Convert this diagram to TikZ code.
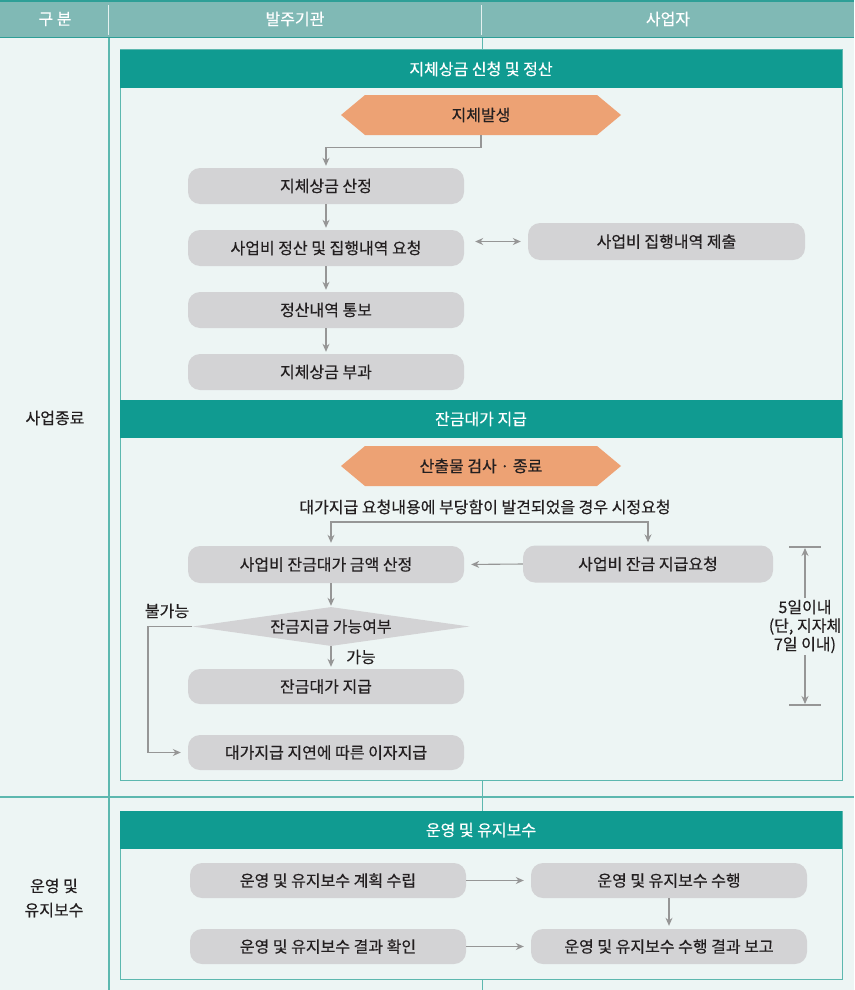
\documentclass[tikz,border=0pt]{standalone}
\usepackage{fontspec}
\setmainfont{Noto Sans CJK KR}[FakeBold=0.35]
\usetikzlibrary{arrows.meta,shapes.geometric}
\definecolor{hdr}{HTML}{80B9B5}
\definecolor{hdrline}{HTML}{2E9F97}
\definecolor{bodybg}{HTML}{EDF5F4}
\definecolor{gridc}{HTML}{5DB8AF}
\definecolor{barc}{HTML}{109B91}
\definecolor{orng}{HTML}{EDA274}
\definecolor{gboxc}{HTML}{D3D3D5}
\definecolor{arr}{HTML}{969696}
\definecolor{txt}{HTML}{231F20}
\begin{document}
\begin{tikzpicture}[x=1pt,y=-1pt,
  font=\fontsize{16}{19}\selectfont,
  every node/.style={text=txt},
  gbox/.style={fill=gboxc, rounded corners=12pt, minimum width=276pt, minimum height=36pt, inner sep=0pt},
  barbox/.style={fill=barc, minimum width=722pt, minimum height=38pt, inner sep=0pt, text=white},
  hdrtext/.style={text=white},
  arrowline/.style={draw=arr, line width=1.1pt, -{Stealth[length=8pt,width=7pt]}},
  tickline/.style={draw=arr, line width=1.1pt},
  lbl/.style={inner sep=0pt}
]
\useasboundingbox (0,0) rectangle (854,990);
% backgrounds
\fill[bodybg] (0,38) rectangle (854,990);
\fill[hdr] (0,0) rectangle (854,38);
\fill[hdrline] (0,0) rectangle (854,2.5);
\draw[hdrline, line width=1.5pt] (0,37.5) -- (854,37.5);
\draw[white!80!hdr, line width=1pt] (108.5,5) -- (108.5,35);
\draw[white!80!hdr, line width=1pt] (481.5,5) -- (481.5,35);
\draw[gridc, line width=1.2pt] (109,38) -- (109,990);
\draw[gridc, line width=1pt] (482,38) -- (482,990);
\draw[gridc, line width=1.2pt] (0,797) -- (854,797);
\draw[gridc, line width=1pt, fill=bodybg] (120,50) rectangle (842,780);
\draw[gridc, line width=1pt, fill=bodybg] (120,811) rectangle (842,979);
% header text
\node[hdrtext] (h1) at (55,19) {구 분};
\node[hdrtext] (h2) at (295,19) {발주기관};
\node[hdrtext] (h3) at (668,19) {사업자};
% left labels
\node (s1) at (55,418) {사업종료};
\node[align=center, font=\fontsize{16}{24}\selectfont] (s2) at (54,898) {운영 및\\유지보수};
% section bars
\node[barbox] (t1) at (481,69) {지체상금 신청 및 정산};
\node[barbox] (t2) at (481,419) {잔금대가 지급};
\node[barbox] (t3) at (481,830) {운영 및 유지보수};
% orange shapes
\fill[orng] (341,115) -- (365,95) -- (597,95) -- (621,115) -- (597,135) -- (365,135) -- cycle;
\node[minimum width=280pt, minimum height=40pt, inner sep=0pt] (jb) at (481,115) {지체발생};
\fill[orng] (341,466) -- (365,446) -- (597,446) -- (621,466) -- (597,486) -- (365,486) -- cycle;
\node[minimum width=280pt, minimum height=40pt, inner sep=0pt] (sj) at (481,466) {산출물 검사 · 종료};
% section 1 nodes
\node[gbox] (a1) at (326,186) {지체상금 산정};
\node[gbox] (a2) at (326,248) {사업비 정산 및 집행내역 요청};
\node[gbox] (a3) at (326,310) {정산내역 통보};
\node[gbox] (a4) at (326,372) {지체상금 부과};
\node[gbox, minimum width=277pt, minimum height=37pt] (b1) at (666.5,241.5) {사업비 집행내역 제출};
\draw[arrowline, shorten >=2pt] (jb.south) -- ++(0,12) -| (a1.north);
\draw[arrowline, shorten >=2pt] (a1) -- (a2);
\draw[arrowline, shorten >=2pt] (a2) -- (a3);
\draw[arrowline, shorten >=2pt] (a3) -- (a4);
\draw[arrowline, {Stealth[length=8pt,width=7pt]}-{Stealth[length=8pt,width=7pt]}, shorten <=11pt, shorten >=7pt] (a2.east |- b1.west) -- (b1.west);
% section 2 nodes
\node[lbl] (cond) at (485,507) {대가지급 요청내용에 부당함이 발견되었을 경우 시정요청};
\node[gbox, minimum height=37pt] (c1) at (326,564.5) {사업비 잔금대가 금액 산정};
\node[gbox, minimum width=250pt, minimum height=37pt] (c2) at (648,564) {사업비 잔금 지급요청};
\coordinate (split) at (490,522);
\draw[arrowline, shorten >=3pt] (split) -| ([xshift=5pt]c1.north);
\draw[arrowline, shorten >=3pt] (split) -| (c2.north);
\draw[arrowline, shorten >=7pt] (c2.west) -- (c1.east);
\node[diamond, aspect=7, fill=gboxc, minimum width=277pt, minimum height=39pt, inner sep=0pt] (dm) at (331,626.5) {잔금지급 가능여부};
\draw[arrowline, shorten >=1pt] ([xshift=5pt]c1.south) -- (dm.north);
\node[gbox, minimum height=35pt] (d1) at (326,686.5) {잔금대가 지급};
\node[gbox, minimum height=35pt] (d2) at (326,752.5) {대가지급 지연에 따른 이자지급};
\draw[arrowline, shorten >=2pt] (dm.south) -- ([xshift=5pt]d1.north);
\node[lbl] (ok) at (361,657) {가능};
\coordinate (bend) at (148,626.5);
\draw[arrowline, shorten >=7pt] (dm.west) -- (bend) |- (d2.west);
\node[lbl] (no) at (167,611) {불가능};
% dimension
\coordinate (dtop) at (805,547);
\coordinate (dbot) at (805,705);
\draw[tickline] ([xshift=-16pt]dtop) -- ([xshift=16pt]dtop);
\draw[tickline] ([xshift=-16pt]dbot) -- ([xshift=16pt]dbot);
\node[align=center, inner sep=2pt, font=\fontsize{16}{18.5}\selectfont] (dim) at (805,626.5) {5일이내\\(단, 지자체\\7일 이내)};
\draw[arrowline, shorten >=1pt] (dim.north) -- (dtop);
\draw[arrowline, shorten >=1pt] (dim.south) -- (dbot);
% section 3 nodes
\node[gbox, minimum height=35pt] (e1) at (328,880.5) {운영 및 유지보수 계획 수립};
\node[gbox, minimum height=35pt] (e2) at (669,880.5) {운영 및 유지보수 수행};
\node[gbox, minimum height=35pt] (e3) at (328,946.5) {운영 및 유지보수 결과 확인};
\node[gbox, minimum height=35pt] (e4) at (669,946.5) {운영 및 유지보수 수행 결과 보고};
\draw[arrowline, shorten >=7pt] (e1) -- (e2);
\draw[arrowline, shorten >=3pt] (e2) -- (e4);
\draw[arrowline, shorten >=7pt] (e3) -- (e4);
\end{tikzpicture}
\end{document}
